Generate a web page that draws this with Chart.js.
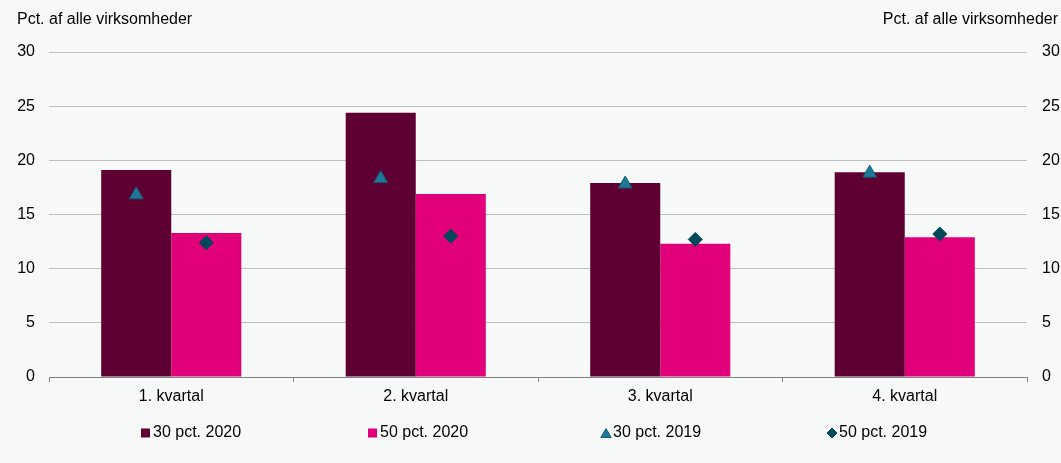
<!DOCTYPE html>
<html>
<head>
<meta charset="utf-8">
<script src="https://cdn.jsdelivr.net/npm/chart.js@4.4.1/dist/chart.umd.min.js"></script>
<style>
  html, body { margin: 0; padding: 0; background: #f7f9f9; }
  #wrap { width: 1061px; height: 463px; position: relative; }
</style>
</head>
<body>
<div id="wrap"><canvas id="c" width="1061" height="463"></canvas></div>
<script>
// ---- data ----
const categories = ["1. kvartal", "2. kvartal", "3. kvartal", "4. kvartal"];
const pct30_2020 = [19.1, 24.4, 17.9, 18.9];
const pct50_2020 = [13.3, 16.9, 12.3, 12.9];
const pct30_2019 = [17.0, 18.5, 18.0, 19.0];
const pct50_2019 = [12.4, 13.0, 12.7, 13.2];
const yTicks = [0, 5, 10, 15, 20, 25, 30];
const seriesNames = ["30 pct. 2020", "50 pct. 2020", "30 pct. 2019", "50 pct. 2019"];
const axisTitle = "Pct. af alle virksomheder";

// ---- style ----
const FONT = "'Liberation Sans', Arial, sans-serif";
const FS = 16;
const C_DARK = "#5f0032";
const C_PINK = "#e2007a";
const C_TRI = "#1f7898";
const C_TRI_B = "#125a76";
const C_DIA = "#00485a";
const CAT_PCT = 0.573;

// marker series: drawn over the matching bar (bar dataset index), via the library's scales
const markerSeries = [
  {label: seriesNames[2], data: pct30_2019, overBar: 0, style: 'triangle', radius: 8, fill: C_TRI, stroke: C_TRI_B},
  {label: seriesNames[3], data: pct50_2019, overBar: 1, style: 'rectRot', radius: 7, fill: C_DIA, stroke: C_DIA}
];

function drawMark(ctx, style, radius, x, y, fill, stroke) {
  // triangles: centre the bounding box on the value
  const dy = style === 'triangle' ? radius / 4 : 0;
  ctx.save();
  ctx.fillStyle = fill;
  ctx.strokeStyle = stroke;
  ctx.lineWidth = 1;
  Chart.helpers.drawPoint(ctx, {pointStyle: style, radius: radius, rotation: 0, borderWidth: 1}, x, y + dy);
  ctx.restore();
}

const decor = {
  id: 'decor',
  afterDatasetsDraw(chart) {
    const ctx = chart.ctx;
    const yScale = chart.scales.y;
    markerSeries.forEach(ms => {
      const barMeta = chart.getDatasetMeta(ms.overBar);
      ms.data.forEach((v, i) => {
        drawMark(ctx, ms.style, ms.radius, barMeta.data[i].x, yScale.getPixelForValue(v), ms.fill, ms.stroke);
      });
    });
  },
  afterDraw(chart) {
    const ctx = chart.ctx;
    ctx.save();
    ctx.fillStyle = '#000';
    ctx.font = FS + 'px ' + FONT;
    ctx.textBaseline = 'middle';
    ctx.textAlign = 'left';
    ctx.fillText(axisTitle, 17, 20);
    ctx.textAlign = 'right';
    ctx.fillText(axisTitle, 1058, 20);
    // legend
    const lx = [141, 368, 601, 827];
    const ly = 433;
    const items = [
      {label: chart.data.datasets[0].label, kind: 'box', fill: chart.data.datasets[0].backgroundColor},
      {label: chart.data.datasets[1].label, kind: 'box', fill: chart.data.datasets[1].backgroundColor},
      {label: markerSeries[0].label, kind: markerSeries[0].style, fill: markerSeries[0].fill, stroke: markerSeries[0].stroke, r: 6},
      {label: markerSeries[1].label, kind: markerSeries[1].style, fill: markerSeries[1].fill, stroke: markerSeries[1].stroke, r: 5}
    ];
    items.forEach((it, i) => {
      const x = lx[i];
      if (it.kind === 'box') {
        ctx.fillStyle = it.fill;
        ctx.fillRect(x, ly - 4.5, 9, 9);
      } else {
        drawMark(ctx, it.kind, it.r, x + 5, ly, it.fill, it.stroke);
      }
      ctx.fillStyle = '#000';
      ctx.textAlign = 'left';
      ctx.font = FS + 'px ' + FONT;
      ctx.textBaseline = 'middle';
      ctx.fillText(it.label, x + 12, ly);
    });
    ctx.restore();
  }
};

new Chart(document.getElementById('c'), {
  type: 'bar',
  data: {
    labels: categories,
    datasets: [
      {label: seriesNames[0], data: pct30_2020, backgroundColor: C_DARK, borderWidth: 0},
      {label: seriesNames[1], data: pct50_2020, backgroundColor: C_PINK, borderWidth: 0}
    ]
  },
  options: {
    responsive: false,
    animation: false,
    layout: {padding: {top: 52, left: 0, right: 0, bottom: 0}},
    datasets: {bar: {categoryPercentage: CAT_PCT, barPercentage: 1.0}},
    plugins: {legend: {display: false}, tooltip: {enabled: false}},
    scales: {
      x: {
        type: 'category',
        offset: true,
        grid: {offset: true, drawOnChartArea: false, drawTicks: true, tickLength: 5, color: '#808080'},
        border: {display: true, color: '#808080', width: 1},
        ticks: {color: '#000', font: {family: FONT, size: FS}, padding: 5, maxRotation: 0},
        afterFit(s) { s.height = 86; }
      },
      y: {
        position: 'left', min: 0, max: 30,
        afterBuildTicks(s) { s.ticks = yTicks.map(v => ({value: v})); },
        grid: {drawTicks: false, color: (c) => c.tick && c.tick.value === 0 ? 'rgba(0,0,0,0)' : '#bfbfbf', lineWidth: 1},
        border: {display: false},
        ticks: {color: '#000', font: {family: FONT, size: FS}, padding: 14},
        afterFit(s) { s.width = 49; }
      },
      y2: {
        position: 'right', min: 0, max: 30,
        afterBuildTicks(s) { s.ticks = yTicks.map(v => ({value: v})); },
        grid: {drawOnChartArea: false, drawTicks: false},
        border: {display: false},
        ticks: {color: '#000', font: {family: FONT, size: FS}, padding: 15},
        afterFit(s) { s.width = 34; }
      }
    }
  },
  plugins: [decor]
});
</script>
</body>
</html>
